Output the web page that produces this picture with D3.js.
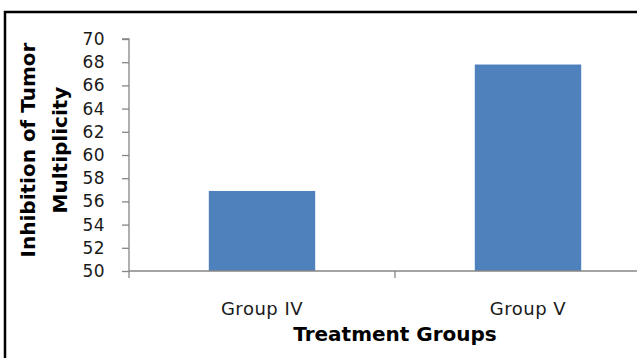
<!DOCTYPE html>
<html>
<head>
<meta charset="utf-8">
<script src="https://cdn.jsdelivr.net/npm/d3@7"></script>
<style>
  html, body { margin: 0; padding: 0; background: #fff; }
  svg { display: block; }
</style>
</head>
<body>
<svg id="chart" width="637" height="358"></svg>
<script>
// Inhibition of tumor multiplicity by treatment group
const categories = ["Group IV", "Group V"];
const inhibition = [56.9, 67.8];
const yTicks = [50, 52, 54, 56, 58, 60, 62, 64, 66, 68, 70];
const yTitleLines = ["Inhibition of Tumor", "Multiplicity"];
const xTitle = "Treatment Groups";

const svg = d3.select("#chart");
const W = 637, H = 358;

// frame around the chart area
svg.append("rect")
  .attr("x", 5).attr("y", 12)
  .attr("width", W + 20).attr("height", H + 20)
  .attr("fill", "#fff")
  .attr("stroke", "#000")
  .attr("stroke-width", 2.5);

const plot = { left: 129, right: 661, top: 39, bottom: 271 };

const x = d3.scaleBand()
  .domain(categories)
  .range([plot.left, plot.right])
  .paddingInner(0.6)
  .paddingOuter(0.3);

const y = d3.scaleLinear()
  .domain([50, 70])
  .range([plot.bottom, plot.top]);

const axisColor = "#868686";
const font = "'DejaVu Sans', Verdana, sans-serif";

// bars
svg.append("g")
  .selectAll("rect")
  .data(categories)
  .join("rect")
  .attr("x", d => x(d))
  .attr("y", (d, i) => y(inhibition[i]))
  .attr("width", x.bandwidth())
  .attr("height", (d, i) => y(50) - y(inhibition[i]))
  .attr("fill", "#4F81BD");

// y axis
const yAxis = svg.append("g")
  .attr("transform", `translate(${plot.left},0)`)
  .call(d3.axisLeft(y).tickValues(yTicks).tickSize(7).tickPadding(17).tickFormat(d3.format("d")));
yAxis.select(".domain").attr("stroke", axisColor).attr("stroke-width", 1.3)
  .attr("d", `M-7,${plot.top}H0V${plot.bottom}`);
yAxis.selectAll(".tick line").attr("stroke", axisColor).attr("stroke-width", 1.3);
yAxis.selectAll(".tick text")
  .attr("fill", "#1a1a1a")
  .style("font-family", font)
  .style("font-size", "17px")
  .style("letter-spacing", "0.4px");

// x axis: labels centred on bands, tick marks on band boundaries
const xAxis = svg.append("g")
  .attr("transform", `translate(0,${plot.bottom})`)
  .call(d3.axisBottom(x).tickSize(0).tickPadding(0));
xAxis.select(".domain").attr("stroke", axisColor).attr("stroke-width", 1.3)
  .attr("d", `M${plot.left},0H${plot.right}`);
xAxis.selectAll(".tick text")
  .attr("y", 44).attr("dy", 0)
  .attr("fill", "#1a1a1a")
  .style("font-family", font)
  .style("font-size", "18px")
  .style("letter-spacing", "0.5px");

const boundaries = [x.range()[0]].concat(categories.map(c => x(c) + x.bandwidth() / 2 + x.step() / 2));
xAxis.selectAll("line.boundary")
  .data(boundaries)
  .join("line")
  .attr("class", "boundary")
  .attr("x1", d => d).attr("x2", d => d)
  .attr("y1", 0).attr("y2", 7)
  .attr("stroke", axisColor).attr("stroke-width", 1.3);

// axis titles
svg.append("text")
  .attr("x", (plot.left + 661) / 2)
  .attr("y", 341)
  .attr("text-anchor", "middle")
  .style("font-family", font)
  .style("font-weight", "bold")
  .style("font-size", "20px")
  .attr("fill", "#000")
  .text(xTitle);

const yTitle = svg.append("text")
  .attr("transform", "rotate(-90)")
  .attr("text-anchor", "middle")
  .style("font-family", font)
  .style("font-weight", "bold")
  .style("font-size", "20px")
  .attr("fill", "#000");
yTitle.selectAll("tspan")
  .data(yTitleLines)
  .join("tspan")
  .attr("x", -150)
  .attr("y", (d, i) => 35 + i * 32)
  .text(d => d);
</script>
</body>
</html>
